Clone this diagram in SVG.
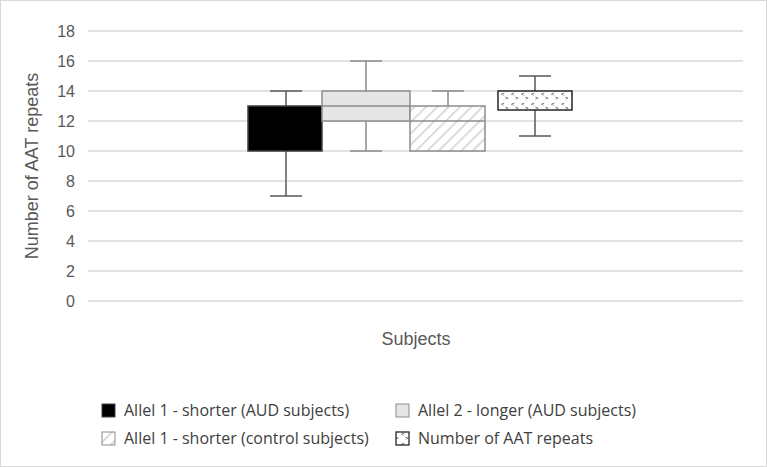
<svg xmlns="http://www.w3.org/2000/svg" width="767" height="467" viewBox="0 0 767 467">
<defs>
<style>
.g{stroke:#d9d9d9;stroke-width:1.3}
.t{font-family:"Liberation Sans",Arial,sans-serif;font-size:16px;fill:#595959}
.ax{font-family:"Liberation Sans",Arial,sans-serif;font-size:18px;fill:#595959}
.l{font-family:"Open Sans","Liberation Sans",sans-serif;font-size:16px;fill:#404040}
.w{stroke:#595959;stroke-width:1.5;fill:none}
.w2{stroke:#8c8c8c;stroke-width:1.5;fill:none}
</style>
<pattern id="diag" width="8" height="8" patternUnits="userSpaceOnUse" patternTransform="rotate(45)">
<rect width="8" height="8" fill="#fff"/><line x1="0" y1="0" x2="0" y2="8" stroke="#d0d0d0" stroke-width="3"/>
</pattern>
<pattern id="dots" width="10" height="10" patternUnits="userSpaceOnUse">
<rect width="10" height="10" fill="#fff"/>
<text x="1" y="6" font-family="Liberation Sans,sans-serif" font-size="6" fill="#000">&lt;</text>
<text x="5" y="10" font-family="Liberation Sans,sans-serif" font-size="6" fill="#000">&gt;</text>
</pattern>
</defs>
<rect x="0.5" y="0.5" width="766" height="466" fill="#fff" stroke="#d9d9d9"/>
<g id="grid">
<line class="g" x1="88" y1="31" x2="743" y2="31"/><line class="g" x1="88" y1="61" x2="743" y2="61"/>
<line class="g" x1="88" y1="91" x2="743" y2="91"/><line class="g" x1="88" y1="121" x2="743" y2="121"/>
<line class="g" x1="88" y1="151" x2="743" y2="151"/><line class="g" x1="88" y1="181" x2="743" y2="181"/>
<line class="g" x1="88" y1="211" x2="743" y2="211"/><line class="g" x1="88" y1="241" x2="743" y2="241"/>
<line class="g" x1="88" y1="271" x2="743" y2="271"/><line class="g" x1="88" y1="301" x2="743" y2="301"/>
</g>
<g id="yaxis" class="t" text-anchor="end">
<text x="75" y="37">18</text><text x="75" y="67">16</text><text x="75" y="97">14</text><text x="75" y="127">12</text>
<text x="75" y="157">10</text><text x="75" y="187">8</text><text x="75" y="217">6</text><text x="75" y="247">4</text>
<text x="75" y="277">2</text><text x="75" y="307">0</text>
</g>
<text class="ax" transform="translate(38,166) rotate(-90)" text-anchor="middle">Number of AAT repeats</text>
<text class="ax" x="416" y="345" text-anchor="middle">Subjects</text>
<g id="box1">
<path class="w" d="M286 106V91M270 91H302M286 151V196M270 196H302"/>
<rect x="248" y="106" width="74" height="45" fill="#000" stroke="#404040" stroke-width="1.5"/>
</g>
<g id="box2">
<path class="w2" d="M366 91V61M350 61H382M366 121V151M350 151H382"/>
<rect x="322" y="91" width="88" height="30" fill="#e6e6e6" stroke="#8c8c8c" stroke-width="1.5"/>
<line class="w2" x1="322" y1="106" x2="410" y2="106"/>
</g>
<g id="box3">
<path class="w2" d="M448 106V91M432 91H464"/>
<rect x="410" y="106" width="75" height="45" fill="url(#diag)" stroke="#8c8c8c" stroke-width="1.5"/>
<line class="w2" x1="410" y1="121" x2="485" y2="121"/>
</g>
<g id="box4">
<path class="w" d="M535 91V76M519 76H551M535 110V136M519 136H551"/>
<rect x="498" y="91" width="74" height="19" fill="url(#dots)" stroke="#262626" stroke-width="1.5"/>
</g>
<g id="legend" class="l">
<rect x="102" y="404" width="13" height="13" fill="#000" stroke="#404040"/>
<text x="124" y="416">Allel 1 - shorter (AUD subjects)</text>
<rect x="396" y="404" width="13" height="13" fill="#e6e6e6" stroke="#8c8c8c"/>
<text x="418" y="416">Allel 2 - longer (AUD subjects)</text>
<rect x="102" y="432" width="13" height="13" fill="url(#diag)" stroke="#8c8c8c"/>
<text x="124" y="444">Allel 1 - shorter (control subjects)</text>
<rect x="396" y="432" width="13" height="13" fill="url(#dots)" stroke="#262626" stroke-width="1.3"/>
<text x="418" y="444">Number of AAT repeats</text>
</g>
</svg>
